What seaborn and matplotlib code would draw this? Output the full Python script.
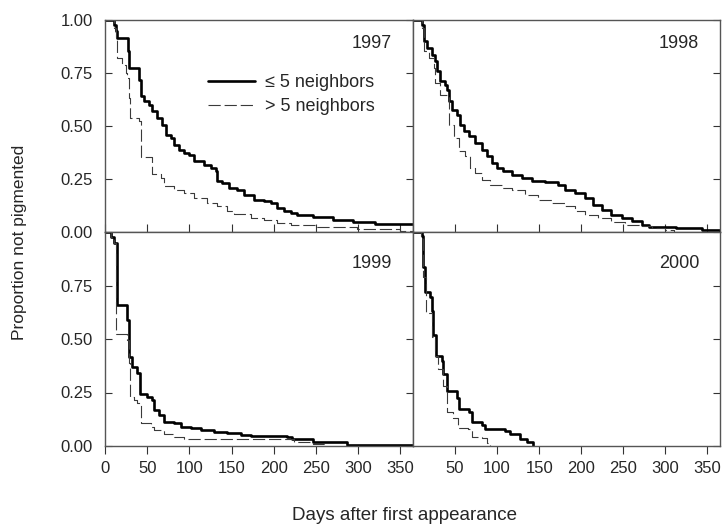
import matplotlib
matplotlib.use("Agg")
import matplotlib.pyplot as plt
import matplotlib.ticker as mticker
import seaborn as sns
import pandas as pd

sns.set_theme(style="white")
plt.rcParams['font.family'] = ['Liberation Sans', 'DejaVu Sans']

years = ["1997", "1998", "1999", "2000"]
groups = ["\u2264 5 neighbors", "> 5 neighbors"]

# Step curves (day, proportion not pigmented), drawn as steps-post
days_1997_low = [0, 10.7, 12.6, 13.8, 27.3, 28.5, 40.3, 42.3, 46.3, 52.2, 56.1, 62, 68, 72, 78, 81.8, 87.8, 93.7, 99.6, 105.6, 117.4, 125.3, 131.3, 133.3, 139, 147, 157, 164.9, 176.7, 188.6, 196.5, 204.4, 212.3, 220.3, 228, 247, 270, 294, 320, 365]
prop_1997_low = [1.00, 0.978, 0.947, 0.915, 0.852, 0.773, 0.718, 0.64, 0.616, 0.60, 0.569, 0.538, 0.506, 0.459, 0.443, 0.412, 0.388, 0.373, 0.365, 0.333, 0.317, 0.302, 0.286, 0.239, 0.231, 0.208, 0.20, 0.176, 0.152, 0.145, 0.137, 0.113, 0.10, 0.09, 0.082, 0.07, 0.057, 0.047, 0.038, 0.038]
days_1997_high = [0, 10.7, 13.4, 14.6, 20.6, 24.5, 26.5, 28.5, 29.7, 40.3, 42.3, 56.1, 66, 70, 81.8, 93.7, 105.6, 121.4, 133.3, 145, 153, 172.6, 188.6, 204.4, 220.3, 251, 299, 350, 365]
prop_1997_high = [1.00, 0.962, 0.915, 0.821, 0.79, 0.75, 0.726, 0.632, 0.54, 0.525, 0.352, 0.272, 0.257, 0.218, 0.20, 0.184, 0.16, 0.137, 0.121, 0.098, 0.087, 0.066, 0.058, 0.042, 0.035, 0.024, 0.013, 0.005, 0.0]

days_1998_low = [0, 10.7, 12.6, 16.6, 22.5, 26.5, 28.5, 32.4, 38.3, 40.3, 42.3, 46.3, 52.2, 56.1, 60.1, 66, 73.9, 81.8, 87.8, 93.7, 99.6, 107.5, 117.4, 129.2, 141, 157, 172.6, 180.5, 192.4, 204.4, 214.3, 224.2, 236, 248, 259.8, 271.7, 281, 313, 344, 365]
prop_1998_low = [1.00, 0.978, 0.899, 0.868, 0.836, 0.805, 0.758, 0.711, 0.695, 0.671, 0.616, 0.577, 0.553, 0.506, 0.475, 0.451, 0.42, 0.388, 0.357, 0.325, 0.302, 0.286, 0.27, 0.255, 0.242, 0.234, 0.223, 0.20, 0.184, 0.16, 0.129, 0.106, 0.082, 0.066, 0.05, 0.035, 0.024, 0.018, 0.01, 0.005]
days_1998_high = [0, 10.7, 12.6, 18.6, 24.5, 26.5, 32.4, 42.3, 48.3, 54.2, 62, 68, 73.9, 81.8, 91.7, 105.6, 117.4, 133.3, 149.1, 165, 180.5, 192.4, 204.4, 220.3, 236, 251.8, 271.7, 283.6, 300, 310]
prop_1998_high = [1.00, 0.962, 0.852, 0.821, 0.774, 0.703, 0.648, 0.506, 0.443, 0.38, 0.357, 0.302, 0.278, 0.247, 0.223, 0.208, 0.20, 0.176, 0.152, 0.137, 0.121, 0.098, 0.082, 0.066, 0.047, 0.035, 0.027, 0.02, 0.008, 0.0]

days_1999_low = [0, 6.7, 10.7, 13.8, 14.6, 26.5, 28.5, 32.4, 38.3, 41.5, 50.2, 56.1, 58.1, 64, 70, 81.8, 89.8, 101.6, 113.5, 129.2, 145, 160.9, 172.6, 216, 222, 247, 287, 365]
prop_1999_low = [1.00, 0.978, 0.947, 0.90, 0.659, 0.589, 0.417, 0.37, 0.339, 0.245, 0.23, 0.215, 0.168, 0.145, 0.114, 0.106, 0.09, 0.082, 0.075, 0.067, 0.059, 0.051, 0.047, 0.044, 0.031, 0.017, 0.005, 0.005]
days_1999_high = [0, 6.7, 10.7, 13.4, 26.5, 28.5, 29.5, 34, 38.3, 42.3, 54.2, 58, 70, 81.8, 93.7, 224, 247, 260]
prop_1999_high = [1.00, 0.978, 0.947, 0.523, 0.495, 0.386, 0.23, 0.215, 0.20, 0.107, 0.09, 0.075, 0.056, 0.044, 0.031, 0.02, 0.01, 0.0]

days_2000_low = [0, 10.3, 12.3, 14.2, 20.2, 22, 24, 27, 34, 36, 40, 52, 55, 66, 70, 82, 86, 109.7, 115.6, 127.5, 135, 143]
prop_2000_low = [1.00, 0.98, 0.835, 0.72, 0.697, 0.63, 0.52, 0.42, 0.396, 0.336, 0.257, 0.226, 0.173, 0.157, 0.11, 0.10, 0.08, 0.07, 0.057, 0.034, 0.019, 0.0]
days_2000_high = [0, 9.5, 12.3, 16, 22, 26, 30, 36, 40, 48, 53, 65, 70, 82, 88, 92]
prop_2000_high = [1.00, 0.98, 0.79, 0.62, 0.51, 0.42, 0.36, 0.28, 0.16, 0.13, 0.085, 0.08, 0.044, 0.037, 0.014, 0.0]

yticks = [0.0, 0.25, 0.5, 0.75, 1.0]
xticks = [0, 50, 100, 150, 200, 250, 300, 350]

series = {
    "1997": [(days_1997_low, prop_1997_low), (days_1997_high, prop_1997_high)],
    "1998": [(days_1998_low, prop_1998_low), (days_1998_high, prop_1998_high)],
    "1999": [(days_1999_low, prop_1999_low), (days_1999_high, prop_1999_high)],
    "2000": [(days_2000_low, prop_2000_low), (days_2000_high, prop_2000_high)],
}
rows = []
for yr in years:
    for g, (d, p) in zip(groups, series[yr]):
        for di, pi in zip(d, p):
            rows.append({"year": yr, "group": g, "day": di, "prop": pi})
df = pd.DataFrame(rows)

W, H = 723, 529
fig = plt.figure(figsize=(W / 100, H / 100), dpi=100)
x0, xm, x1 = 105, 413, 720
y0, ym, y1 = 20, 232, 446
pos = {
    "1997": [x0 / W, 1 - ym / H, (xm - x0) / W, (ym - y0) / H],
    "1998": [xm / W, 1 - ym / H, (x1 - xm) / W, (ym - y0) / H],
    "1999": [x0 / W, 1 - y1 / H, (xm - x0) / W, (y1 - ym) / H],
    "2000": [xm / W, 1 - y1 / H, (x1 - xm) / W, (y1 - ym) / H],
}
spine_col = "#555555"
styles = {
    groups[0]: dict(color="black", linewidth=1.9),
    groups[1]: dict(color="#3a3a3a", linewidth=0.8, dashes=(11, 3.5)),
}

for i, yr in enumerate(years):
    ax = fig.add_axes(pos[yr])
    sub = df[df.year == yr]
    for g in groups:
        s = sub[sub.group == g]
        st = styles[g]
        sns.lineplot(data=s, x="day", y="prop", ax=ax, estimator=None, sort=False,
                     drawstyle="steps-post", label=g,
                     color=st["color"], linewidth=st["linewidth"])
        if "dashes" in st:
            ax.lines[-1].set_dashes(st["dashes"])
    ax.set_xlim(0, 365)
    ax.set_ylim(0, 1.0)
    ax.set_xlabel("")
    ax.set_ylabel("")
    for sp in ax.spines.values():
        sp.set_color(spine_col)
        sp.set_linewidth(1.0)
    ax.set_xticks(xticks)
    ax.set_yticks(yticks)
    left = i % 2 == 0
    bottom = i >= 2
    ax.tick_params(axis="y", which="both", direction="in", length=5, width=0.8,
                   color="#333333", left=left, right=True, labelleft=left,
                   labelright=False, labelsize=12, pad=9)
    ax.tick_params(axis="x", direction="out" if bottom else "in", length=6,
                   width=0.8, color="#333333", bottom=True, top=False,
                   labelbottom=bottom, labelsize=12, pad=5)
    ax.yaxis.set_major_formatter(mticker.FormatStrFormatter("%.2f"))
    if bottom and not left:
        ax.set_xticks(xticks[1:])
    if left and bottom:
        ax.set_yticks(yticks[:-1])
    ax.text(0.932, 0.89 if not bottom else 0.855, yr, transform=ax.transAxes,
            ha="right", va="center", fontsize=13)
    if yr == "1997":
        ax.legend(loc="upper left", bbox_to_anchor=(0.335, 0.745), frameon=False,
                  fontsize=13, handlelength=2.6, handletextpad=0.55,
                  borderaxespad=0, borderpad=0, labelspacing=0.4)
    else:
        lg = ax.get_legend()
        if lg is not None:
            lg.remove()

fig.text(20 / W, 1 - 242 / H, "Proportion not pigmented", rotation=90,
         ha="center", va="center", fontsize=12.5)
fig.text(405 / W, 1 - 516 / H, "Days after first appearance", ha="center",
         va="center", fontsize=13.5)

fig.savefig("out.png", dpi=100)
